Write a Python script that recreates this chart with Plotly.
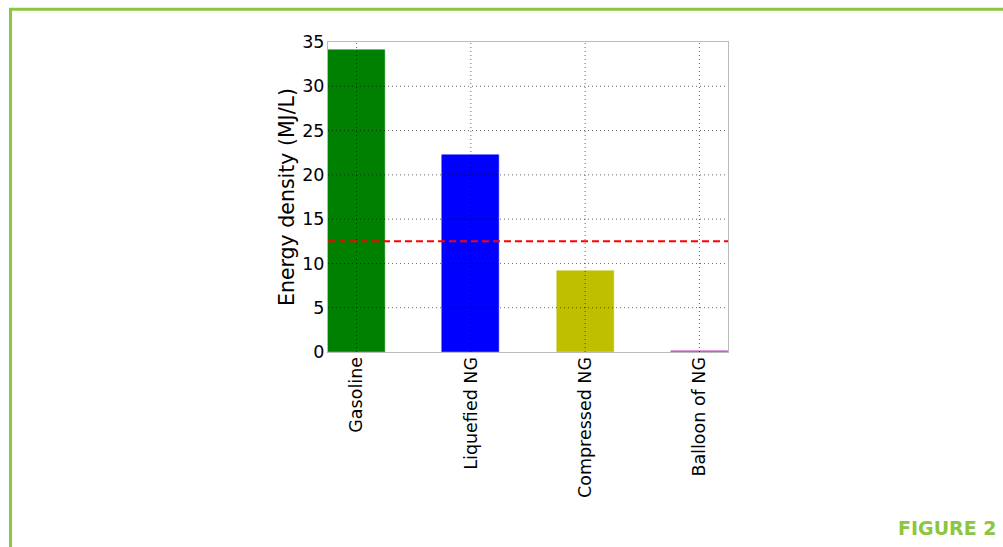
import plotly.graph_objects as go

categories = ["Gasoline", "Liquefied NG", "Compressed NG", "Balloon of NG"]
energy_density = [34.1, 22.2, 9.15, 0.12]
bar_colors = ["#008000", "#0000ff", "#bfbf00", "#c040c0"]
reference_level = 12.5
y_ticks = [0, 5, 10, 15, 20, 25, 30, 35]

fig = go.Figure()
fig.add_trace(go.Bar(
    x=list(range(len(categories))),
    y=energy_density,
    width=0.5,
    marker=dict(color=bar_colors, line=dict(color=bar_colors, width=0.5)),
    showlegend=False,
))

grid_line = dict(color="rgba(0,0,0,0.6)", width=1, dash="1px,3px")
# dotted grid drawn above the bars (as matplotlib does here)
for yv in y_ticks[1:-1]:
    fig.add_shape(type="line", xref="paper", yref="y", x0=0, x1=1,
                  y0=yv, y1=yv, line=grid_line, layer="above")
for i in range(len(categories)):
    fig.add_shape(type="line", xref="x", yref="paper", x0=i, x1=i,
                  y0=0, y1=1, line=grid_line, layer="above")

fig.add_shape(type="line", xref="paper", yref="y", x0=0, x1=1,
              y0=reference_level, y1=reference_level,
              line=dict(color="#ff0000", width=2, dash="7px,4px"), layer="above")

# green page frame (left and top edges)
fig.add_shape(type="line", xref="paper", yref="paper",
              x0=-0.7937, x1=-0.7937, y0=1.1054, y1=-0.8,
              line=dict(color="#8cc63f", width=3))
fig.add_shape(type="line", xref="paper", yref="paper",
              x0=-0.7975, x1=1.9, y0=1.1054, y1=1.1054,
              line=dict(color="#8cc63f", width=3))

fig.add_annotation(text="<b>FIGURE 2</b>", xref="paper", yref="paper",
                   x=1.677, y=-0.567, xanchor="right", yanchor="middle",
                   showarrow=False,
                   font=dict(family="DejaVu Sans", size=19, color="#8cc63f"))

fig.update_layout(
    width=1003, height=547,
    margin=dict(l=328, r=275, t=42, b=195),
    paper_bgcolor="white", plot_bgcolor="white",
    font=dict(family="DejaVu Sans", color="black"),
    bargap=0,
)
fig.update_xaxes(
    range=[-0.25, 3.25],
    tickmode="array", tickvals=list(range(len(categories))), ticktext=categories,
    tickangle=-90, tickfont=dict(size=17.5, color="black"),
    showgrid=False,
    showline=True, linecolor="#bbbbbb", linewidth=1, mirror=True,
    ticks="", zeroline=False, ticklabelstandoff=-3,
)
fig.update_yaxes(
    range=[0, 35],
    tickmode="array", tickvals=y_ticks,
    tickfont=dict(size=17.5, color="black"),
    title=dict(text="Energy density (MJ/L)", font=dict(size=20.5, color="black"), standoff=2),
    showgrid=False,
    showline=True, linecolor="#bbbbbb", linewidth=1, mirror=True,
    ticks="", zeroline=False, ticklabelstandoff=-1,
)

fig.write_html("out.html")
